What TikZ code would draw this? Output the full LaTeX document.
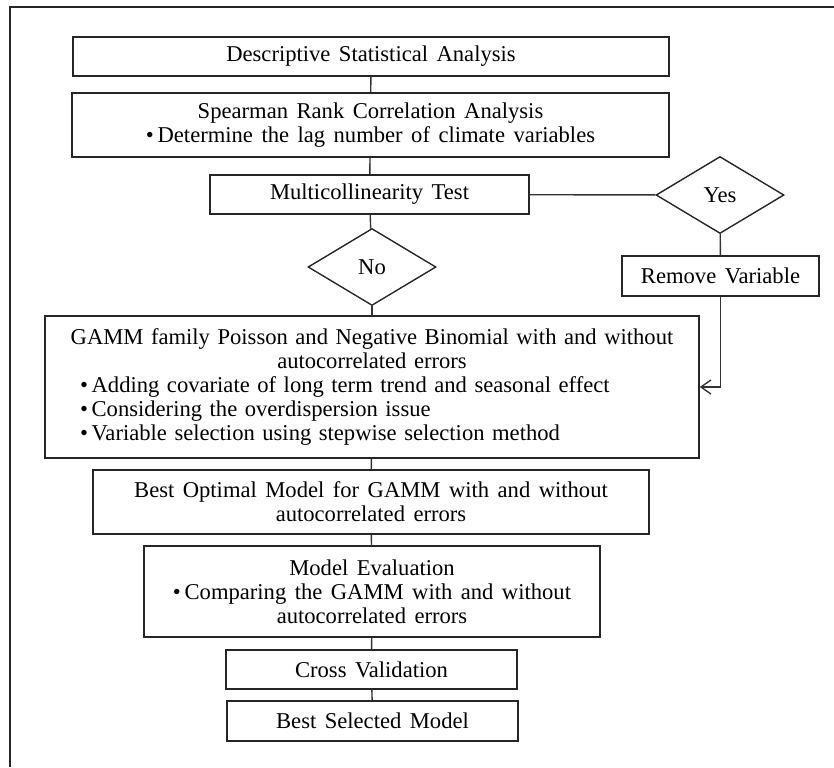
\documentclass[tikz,border=0pt]{standalone}
\usepackage{fontspec}
\setmainfont{Liberation Serif}[WordSpace=1.5]
\usetikzlibrary{shapes.geometric,arrows.meta}

\begin{document}
\begin{tikzpicture}[x=0.5pt, y=-0.5pt,
        font=\fontsize{11.3}{12}\selectfont,
        box/.style={draw=black!85, line width=0.7pt, inner sep=0pt},
        stepbox/.style 2 args={box, align=center, minimum width=#1, minimum height=#2},
        choice/.style={box, diamond, minimum width=64pt, minimum height=38.5pt},
        link/.style={draw=black!80, line width=0.7pt}]
        \useasboundingbox (0,0) rectangle (834,767);

        % Frame
        \draw[line width=1pt, black!85] (10,767) -- (10,7) -- (834,7);

        % Nodes
        \node[stepbox={298pt}{19.5pt}] (desc) at (371,56.5) {Descriptive Statistical Analysis};
        \node[stepbox={298.5pt}{32pt}] (spear) at (370.5,125)
            {Spearman Rank Correlation Analysis\\ \textbullet\,Determine the lag number of climate variables};
        \node[stepbox={159.5pt}{19.5pt}] (multi) at (369.5,194.5) {Multicollinearity Test};
        \node[choice] (yes) at (720,195) {Yes};
        \node[choice] (no) at (372,267) {No};
        \node[stepbox={98.5pt}{20pt}] (remove) at (720.5,276) {Remove Variable};
        \node[box, text width=327pt, minimum height=71pt] (gamm) at (372,387)
            {{\centering GAMM family Poisson and Negative Binomial with and without\\ autocorrelated errors\par}%
             {\raggedright\leftskip=17.5pt \textbullet\,Adding covariate of long term trend and seasonal effect\\
              \textbullet\,Considering the overdispersion issue\\
              \textbullet\,Variable selection using stepwise selection method\par}};
        \node[stepbox={278pt}{32pt}] (bestopt) at (371,502)
            {Best Optimal Model for GAMM with and without\\ autocorrelated errors};
        \node[stepbox={228pt}{45.5pt}] (eval) at (372,591.5)
            {Model Evaluation\\ \textbullet\,Comparing the GAMM with and without\\ autocorrelated errors};
        \node[stepbox={145.5pt}{19.5pt}] (cross) at (371.5,669.5) {Cross Validation};
        \node[stepbox={145.5pt}{20pt}] (final) at (372.5,721) {Best Selected Model};

        % Edges
        \draw[link] (desc) -- (spear);
        \draw[link] (spear) -- (multi);
        \draw[link] (multi) -- (yes);
        \draw[link] (yes) -- (remove);
        \draw[link] (multi) -- (no);
        \draw[link] (no) -- (gamm);
        \draw[link, -{Straight Barb[length=5pt, width=7pt]}] (remove.south) |- (gamm.east);
        \draw[link] (gamm) -- (bestopt);
        \draw[link] (bestopt) -- (eval);
        \draw[link] (eval) -- (cross);
        \draw[link] (cross) -- (final);
    \end{tikzpicture}
\end{document}
